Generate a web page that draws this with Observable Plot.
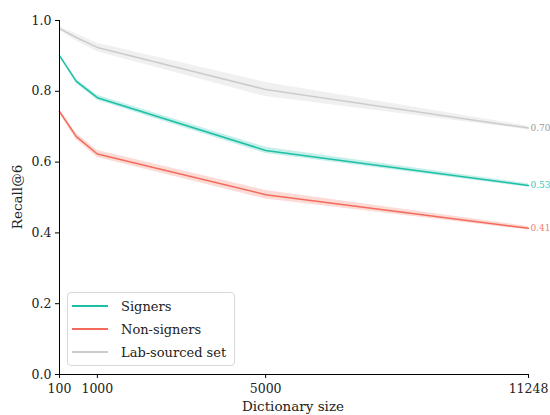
<!DOCTYPE html>
<html><head><meta charset="utf-8">
<script src="https://cdn.jsdelivr.net/npm/d3@7"></script>
<script src="https://cdn.jsdelivr.net/npm/@observablehq/plot@0.6"></script>
<style>
body{margin:0;background:#fff}
#wrap{position:relative;width:550px;height:415px}
.legend{position:absolute;left:67px;top:292px;width:166px;height:72px;border:1px solid #d8d8d8;border-radius:4px;background:rgba(255,255,255,0.85);font-family:"DejaVu Serif","Liberation Serif","Times New Roman",serif;font-size:13px;color:#222}
.row{position:absolute;left:0;height:20px;display:flex;align-items:center}
.sw{width:36px;height:0;border-top:2px solid;margin-left:4px;margin-right:13px}
</style></head>
<body><div id="wrap"></div>
<script>
const sizes = [100, 500, 1000, 5000, 11248];
const seriesNames = ["Signers", "Non-signers", "Lab-sourced set"];
const signers = [0.901, 0.828, 0.782, 0.633, 0.534];
const nonSigners = [0.743, 0.672, 0.623, 0.508, 0.413];
const lab = [0.977, 0.952, 0.924, 0.805, 0.696];
const signersErr = [0.004, 0.006, 0.007, 0.009, 0.005];
const nonSignersErr = [0.005, 0.009, 0.01, 0.012, 0.005];
const labErr = [0.005, 0.01, 0.012, 0.02, 0.005];
const xTicks = [100, 1000, 5000, 11248];
const yTicks = [0, 0.2, 0.4, 0.6, 0.8, 1.0];
const lineColors = ["#1dbfa6", "#f36b5a", "#cccccc"];
const bandColors = ["#1dbfa6", "#f36b5a", "#bbbbbb"];
const labelColors = ["#3cc8b2", "#f47e6e", "#999999"];
const endLabels = ["0.53", "0.41", "0.70"];

const vals = [signers, nonSigners, lab];
const errs = [signersErr, nonSignersErr, labErr];
const rows = [];
seriesNames.forEach((s, i) => sizes.forEach((x, j) => rows.push({series: s, idx: i, x, y: vals[i][j], lo: vals[i][j] - errs[i][j], hi: vals[i][j] + errs[i][j]})));
const ends = seriesNames.map((s, i) => ({series: s, idx: i, x: sizes[sizes.length - 1], y: vals[i][sizes.length - 1], label: endLabels[i]}));

const font = '"DejaVu Serif", "Liberation Serif", "Times New Roman", serif';
const marks = [];
[2, 1, 0].forEach(i => {
  const d = rows.filter(r => r.idx === i);
  marks.push(Plot.areaY(d, {x: "x", y1: "lo", y2: "hi", fill: bandColors[i], fillOpacity: i === 2 ? 0.22 : 0.25}));
});
[2, 1, 0].forEach(i => {
  const d = rows.filter(r => r.idx === i);
  marks.push(Plot.lineY(d, {x: "x", y: "y", stroke: lineColors[i], strokeWidth: 1.5}));
});
marks.push(Plot.text(ends, {x: "x", y: "y", text: "label", fill: d => labelColors[d.idx], dx: 2, textAnchor: "start", fontSize: 9, fontFamily: font}));
marks.push(Plot.ruleX([100], {y1: 0, y2: 1, stroke: "#000", strokeWidth: 1}));
marks.push(Plot.ruleY([0], {x1: 100, x2: 11248, stroke: "#000", strokeWidth: 1}));
marks.push(Plot.axisY({ticks: yTicks, tickFormat: d3.format(".1f"), tickSize: 4, tickPadding: 4, fontSize: 12.5, fontFamily: font, label: null, stroke: "#000", fill: "#222"}));
marks.push(Plot.axisX({ticks: xTicks, tickFormat: d => String(d), tickSize: 4, tickPadding: 6, fontSize: 12.5, fontFamily: font, label: null, stroke: "#000", fill: "#222"}));

const chart = Plot.plot({
  width: 550, height: 415,
  marginLeft: 59, marginRight: 22, marginTop: 20, marginBottom: 41,
  x: {type: "linear", domain: [100, 11248]},
  y: {domain: [0, 1]},
  style: {fontFamily: font, fontSize: "12.5px", background: "#fff", overflow: "visible"},
  marks
});
const wrap = document.getElementById("wrap");
wrap.appendChild(chart);

const svg = d3.select(chart);
svg.append("text").attr("x", 293).attr("y", 411).attr("text-anchor", "middle").attr("font-size", 13.5).attr("font-family", font).attr("fill", "#222").text("Dictionary size");
svg.append("text").attr("transform", "translate(22,197) rotate(-90)").attr("text-anchor", "middle").attr("font-size", 13.5).attr("font-family", font).attr("fill", "#222").text("Recall@6");

const leg = document.createElement("div");
leg.className = "legend";
seriesNames.forEach((s, i) => {
  const r = document.createElement("div");
  r.className = "row";
  r.style.top = (3 + i * 23) + "px";
  r.innerHTML = `<span class="sw" style="border-color:${lineColors[i]}"></span><span>${s}</span>`;
  leg.appendChild(r);
});
wrap.appendChild(leg);
</script></body></html>
